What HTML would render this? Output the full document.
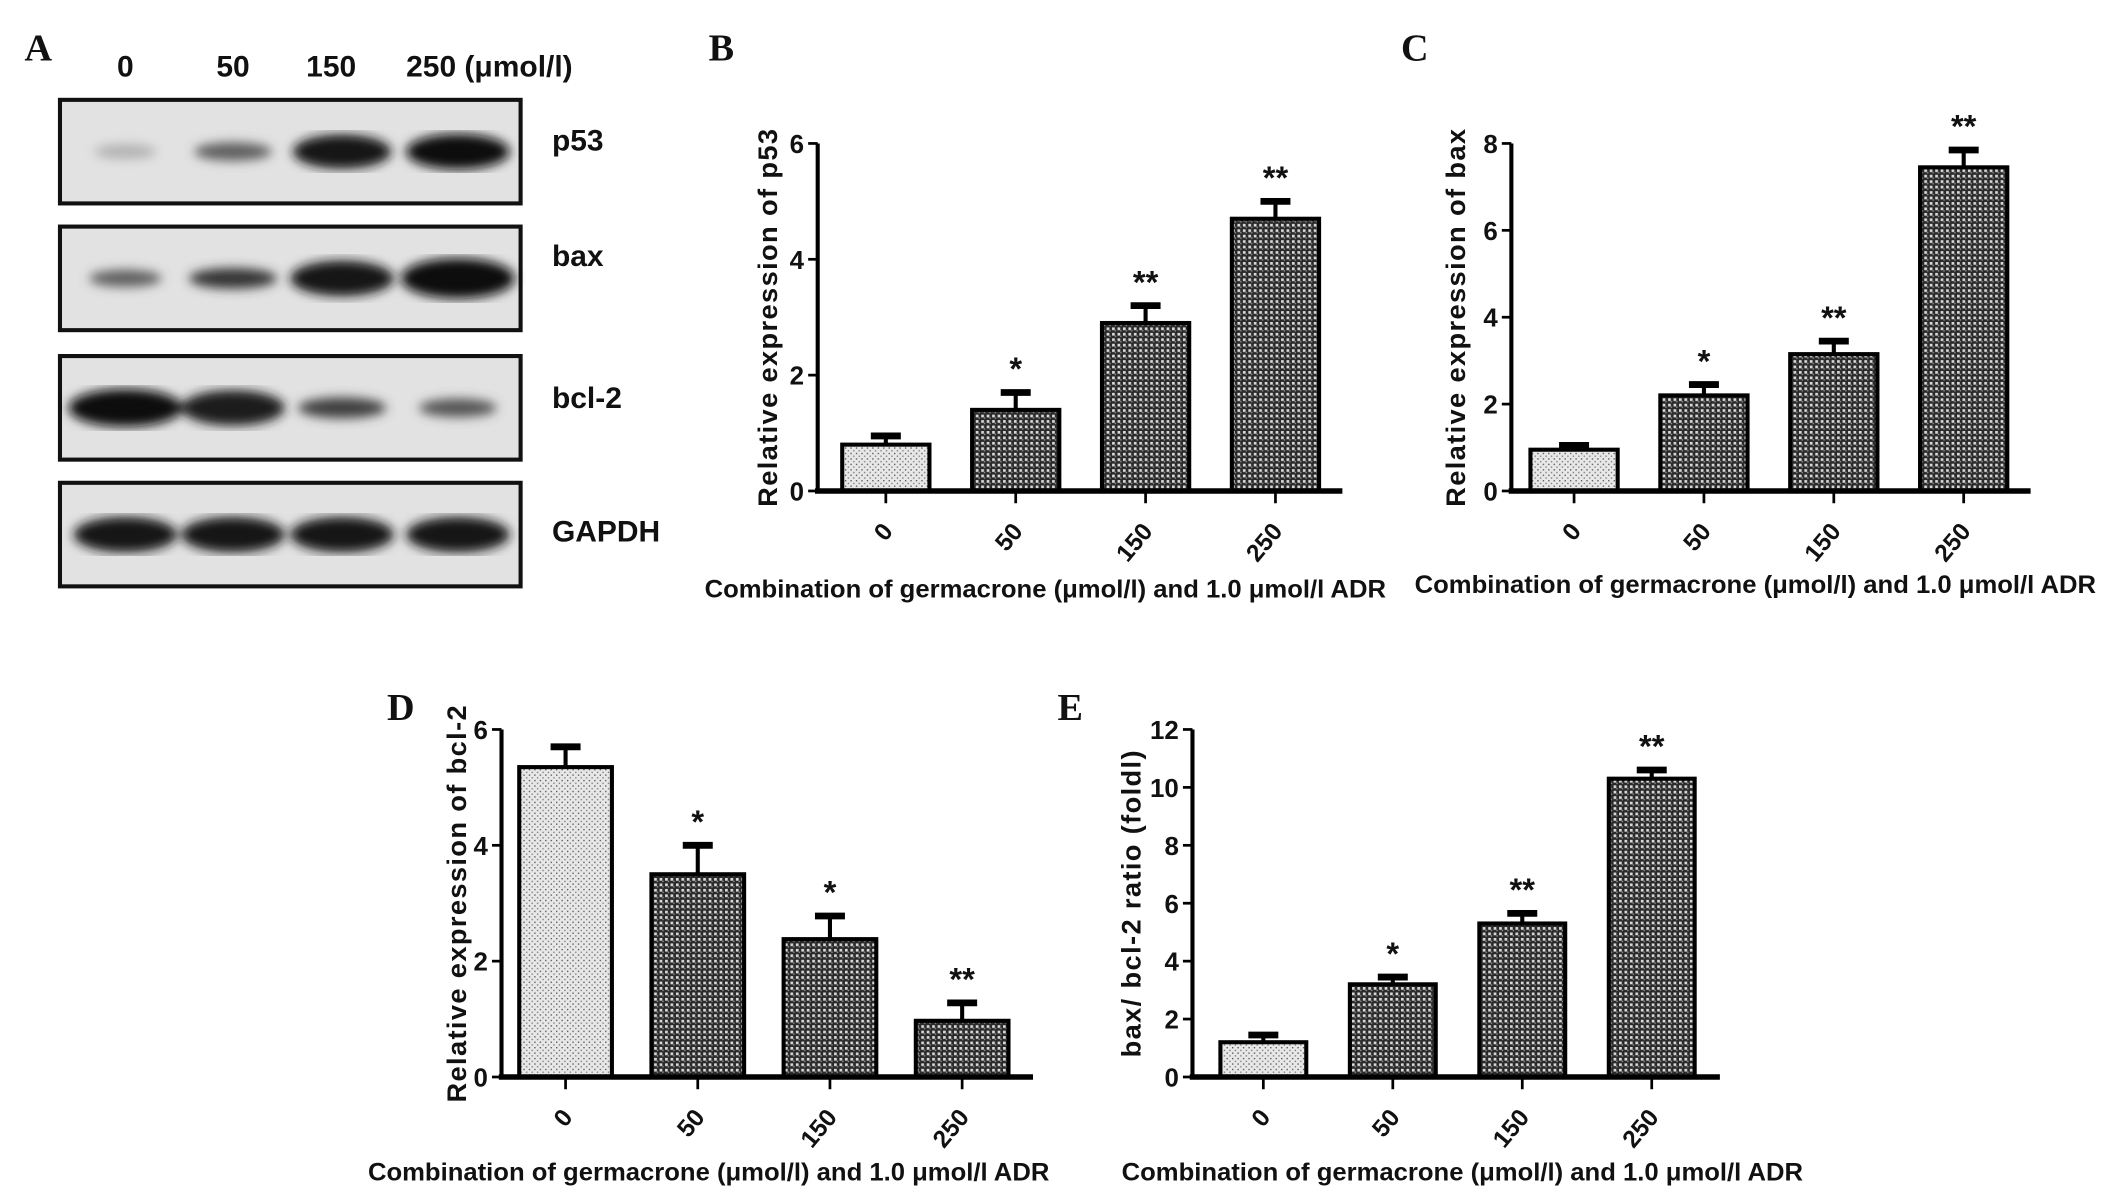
<!DOCTYPE html>
<html><head><meta charset="utf-8"><style>
html,body{margin:0;padding:0;background:#fff}
svg{display:block}
text{font-family:"Liberation Sans",sans-serif;font-weight:bold;fill:#111}
.lab{font-family:"Liberation Serif",serif;font-size:28px}
</style></head><body>
<svg id="fig" width="2126" height="1200" viewBox="0 0 1560 880" xmlns="http://www.w3.org/2000/svg">
<defs>
<pattern id="dark" width="4" height="4" patternUnits="userSpaceOnUse"><rect width="4" height="4" fill="#2a2a2a"/><rect x="0" y="0" width="2" height="2" fill="#d8d8d8"/><rect x="2" y="2" width="1" height="1" fill="#999"/></pattern>
<pattern id="light" width="4" height="4" patternUnits="userSpaceOnUse"><rect width="4" height="4" fill="#e8e8e8"/><rect x="0" y="0" width="1" height="1" fill="#555"/><rect x="2" y="2" width="1" height="1" fill="#777"/></pattern>
<filter id="blur"><feGaussianBlur stdDeviation="4"/></filter>
</defs>
<g id="blot">
<text class="lab" x="18" y="44">A</text>
<text x="92" y="56" font-size="22" text-anchor="middle">0</text>
<text x="171" y="56" font-size="22" text-anchor="middle">50</text>
<text x="243" y="56" font-size="22" text-anchor="middle">150</text>
<text x="298" y="56" font-size="22">250 (μmol/l)</text>
</g>
<g id="charts"></g>
</svg>
<script>
const NS="http://www.w3.org/2000/svg";
const blotRows=["p53","bax","bcl-2","GAPDH"];
const blotTops=[73,166,261,354];
const blotLabelOffsets=[37,29,38,43];
const bandIntensity=[[0.2,0.6,0.95,1.0],[0.6,0.8,0.95,1.0],[1.0,0.9,0.75,0.65],[0.95,0.95,0.95,0.95]];
const bandSize=[[0.6,0.75,0.95,1.0],[0.7,0.85,1.0,1.2],[1.1,1.0,0.85,0.75],[1.0,1.0,1.0,1.0]];

const catsB=["0","50","150","250"];
const p53Vals=[0.8,1.4,2.9,4.7];
const p53Err=[0.95,1.7,3.2,5.0];
const p53Sig=["","*","**","**"];
const baxVals=[0.95,2.2,3.15,7.45];
const baxErr=[1.05,2.45,3.45,7.85];
const baxSig=["","*","**","**"];
const bclVals=[5.35,3.5,2.38,0.97];
const bclErr=[5.7,4.0,2.78,1.28];
const bclSig=["","*","*","**"];
const ratioVals=[1.2,3.2,5.3,10.3];
const ratioErr=[1.45,3.45,5.65,10.6];
const ratioSig=["","*","**","**"];
const ticksP53=[0,2,4,6];
const ticksBax=[0,2,4,6,8];
const ticksBcl=[0,2,4,6];
const ticksRatio=[0,2,4,6,8,10,12];

function mk(tag,attrs,parent){const e=document.createElementNS(NS,tag);for(const k in attrs)e.setAttribute(k,attrs[k]);parent.appendChild(e);return e;}
const blotG=document.getElementById('blot');
const laneX=[92,171,251,336];
blotRows.forEach((r,i)=>{
  const y0=blotTops[i];
  const g=mk('g',{},blotG);
  
  
  mk('rect',{x:44,y:y0,width:338,height:76,fill:'#e2e2e2',stroke:'#111','stroke-width':3},g);
  const bg=mk('g',{filter:'url(#blur)'},g);
  for(let j=0;j<4;j++){
    const it=bandIntensity[i][j],sz=bandSize[i][j];
    const c=Math.round(220-it*210);
    const b=mk('ellipse',{cx:laneX[j],cy:y0+38,rx:38*Math.min(sz,1.1),ry:9*sz+(it>0.8?4:0),fill:'rgb('+c+','+c+','+c+')'},bg);
    
    
  }
  const t=mk('text',{x:405,y:y0+blotLabelOffsets[i],'font-size':22},g);
  t.textContent=r;
  
  
});

const chartsG=document.getElementById('charts');
function chart(o){
  const g=mk('g',{},chartsG);
  
  
  const yMax=o.ticks[o.ticks.length-1];
  const ys=v=>o.y0-(v/yMax)*(o.y0-o.yTop);
  const bw=o.barW, step=o.step;
  const xc=i=>o.firstC+i*step;
  const L=mk('text',{x:o.labX,y:o.labY,class:'lab'},g);L.textContent=o.label;
  
  o.vals.forEach((v,i)=>{
    const x=xc(i)-bw/2;
    const e=o.errs[i];
    mk('line',{x1:xc(i),x2:xc(i),y1:ys(v),y2:ys(e),stroke:'#000','stroke-width':3},g);
    const cap=mk('line',{x1:xc(i)-11,x2:xc(i)+11,y1:ys(e),y2:ys(e),stroke:'#000','stroke-width':5},g);
    
    const r=mk('rect',{x:x,y:ys(v),width:bw,height:o.y0-ys(v),fill:i===0?'url(#light)':'url(#dark)',stroke:'#000','stroke-width':3},g);
    
    if(o.sig[i]){const s=mk('text',{x:xc(i),y:ys(e)-9,'font-size':24,'text-anchor':'middle','font-weight':'normal'},g);s.textContent=o.sig[i];
      }
    mk('line',{x1:xc(i),x2:xc(i),y1:o.y0,y2:o.y0+9,stroke:'#000','stroke-width':2},g);
    const t=mk('text',{x:xc(i)+6,y:o.y0+30,'font-size':18,'text-anchor':'end',transform:'rotate(-50 '+(xc(i)+6)+' '+(o.y0+30)+')'},g);
    t.textContent=o.cats[i];
  });
  mk('line',{x1:o.ax,x2:o.ax,y1:o.yTop,y2:o.y0,stroke:'#000','stroke-width':3},g);
  mk('line',{x1:o.ax-2,x2:o.xEnd,y1:o.y0,y2:o.y0,stroke:'#000','stroke-width':4},g);
  o.ticks.forEach(t=>{
    mk('line',{x1:o.ax-7,x2:o.ax,y1:ys(t),y2:ys(t),stroke:'#000','stroke-width':2},g);
    const tt=mk('text',{x:o.ax-10,y:ys(t)+7,'font-size':19,'text-anchor':'end'},g);tt.textContent=t;
    
  });
  const yt=mk('text',{x:o.ytX,y:(o.y0+o.yTop)/2,'font-size':20,'text-anchor':'middle','letter-spacing':'1',transform:'rotate(-90 '+o.ytX+' '+((o.y0+o.yTop)/2)+')'},g);
  yt.textContent=o.ytitle;
  const xt=mk('text',{x:o.xtX,y:o.xtY,'font-size':18,'text-anchor':'middle',textLength:500,lengthAdjust:'spacingAndGlyphs'},g);
  xt.textContent='Combination of germacrone (μmol/l) and 1.0 μmol/l ADR';
  
}
chart({name:'chart-p53',label:'B',labX:520,labY:44,cats:catsB,vals:p53Vals,errs:p53Err,sig:p53Sig,ticks:ticksP53,ax:600,yTop:105,y0:360,xEnd:985,firstC:650,step:95.3,barW:64,ytitle:'Relative expression of p53',ytX:570,xtX:767,xtY:438});
chart({name:'chart-bax',label:'C',labX:1028,labY:44,cats:catsB,vals:baxVals,errs:baxErr,sig:baxSig,ticks:ticksBax,ax:1109,yTop:105,y0:360,xEnd:1490,firstC:1155,step:95.3,barW:64,ytitle:'Relative expression of bax',ytX:1075,xtX:1288,xtY:435});
chart({name:'chart-bcl2',label:'D',labX:284,labY:528,cats:catsB,vals:bclVals,errs:bclErr,sig:bclSig,ticks:ticksBcl,ax:368,yTop:535,y0:790,xEnd:758,firstC:415,step:97,barW:68,ytitle:'Relative expression of bcl-2',ytX:342,xtX:520,xtY:866});
chart({name:'chart-ratio',label:'E',labX:776,labY:528,cats:catsB,vals:ratioVals,errs:ratioErr,sig:ratioSig,ticks:ticksRatio,ax:875,yTop:535,y0:790,xEnd:1262,firstC:927,step:95,barW:63,ytitle:'bax/ bcl-2 ratio (foldl)',ytX:837,xtX:1073,xtY:866});
</script>
</body></html>
